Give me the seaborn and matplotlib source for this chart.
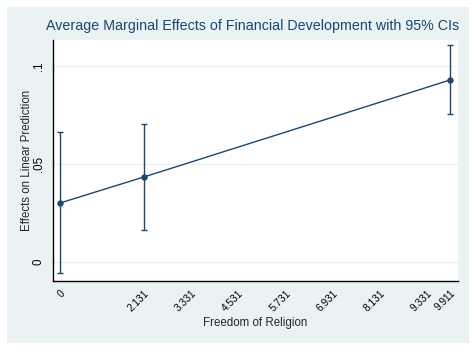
import numpy as np
import pandas as pd
import matplotlib
matplotlib.use("Agg")
import matplotlib.pyplot as plt
import seaborn as sns

# values
freedom = [0.0, 2.131, 9.911]
effect = [0.0301, 0.0434, 0.0929]
ci_low = [-0.0056, 0.0163, 0.0755]
ci_high = [0.0663, 0.0704, 0.1107]
x_ticks = [0, 2.131, 3.331, 4.531, 5.731, 6.931, 8.131, 9.331, 9.911]
x_ticklabels = ["0", "2.131", "3.331", "4.531", "5.731", "6.931", "8.131", "9.331", "9.911"]
y_ticks = [0, 0.05, 0.1]
y_ticklabels = ["0", ".05", ".1"]

navy = "#1a476f"
bg = "#eaf2f3"

df = pd.DataFrame({"x": freedom, "y": effect, "lo": ci_low, "hi": ci_high})

sns.set_style("white")
plt.rcParams["font.family"] = ["Liberation Sans", "DejaVu Sans"]

fig = plt.figure(figsize=(4.77, 3.51), dpi=100)
fig.patch.set_facecolor("white")
# light outer panel like Stata s2color
panel = plt.Rectangle((7 / 477, 8 / 351), 462 / 477, 336 / 351,
                      transform=fig.transFigure, facecolor=bg,
                      edgecolor="none", zorder=-10)
fig.patches.append(panel)
ax = fig.add_axes([53 / 477, 70 / 351, 405 / 477, 241 / 351])
ax.set_zorder(5)
ax.set_facecolor("white")

for yt in y_ticks:
    ax.axhline(yt, color=bg, lw=1, zorder=0)

ax.errorbar(df["x"], df["y"], yerr=[df["y"] - df["lo"], df["hi"] - df["y"]],
            fmt="none", ecolor=navy, elinewidth=1, capsize=1.9, capthick=1, zorder=2)
sns.lineplot(data=df, x="x", y="y", ax=ax, color=navy, lw=1, marker="o",
             markersize=3.8, markeredgecolor=navy, zorder=3)

ax.set_xlim(-0.178, 10.11)
ax.set_ylim(-0.0097, 0.1133)
ax.set_xticks(x_ticks)
ax.set_xticklabels(x_ticklabels, rotation=45, ha="right", rotation_mode="anchor", fontsize=7.3)
ax.set_yticks(y_ticks)
ax.set_yticklabels(y_ticklabels, rotation=90, va="center", fontsize=8.3)
ax.tick_params(axis="both", direction="out", length=4, width=0.8, colors="black", pad=2)
ax.tick_params(axis="x", pad=1)

for side in ["top", "right"]:
    ax.spines[side].set_visible(False)
for side in ["left", "bottom"]:
    ax.spines[side].set_color("black")
    ax.spines[side].set_linewidth(1)

ax.set_xlabel("Freedom of Religion", fontsize=8.3)
ax.set_ylabel("Effects on Linear Prediction", fontsize=8.3)
ax.xaxis.label.set_va("center")
ax.yaxis.label.set_va("center")
ax.xaxis.set_label_coords(0.5, -0.175)
ax.yaxis.set_label_coords(-0.064, 0.5)
fig.text(253 / 477, 1 - 30 / 351, "Average Marginal Effects of Financial Development with 95% CIs",
         ha="center", va="baseline", fontsize=10.3, color=navy)

fig.savefig("out.png", dpi=100, facecolor="white")
